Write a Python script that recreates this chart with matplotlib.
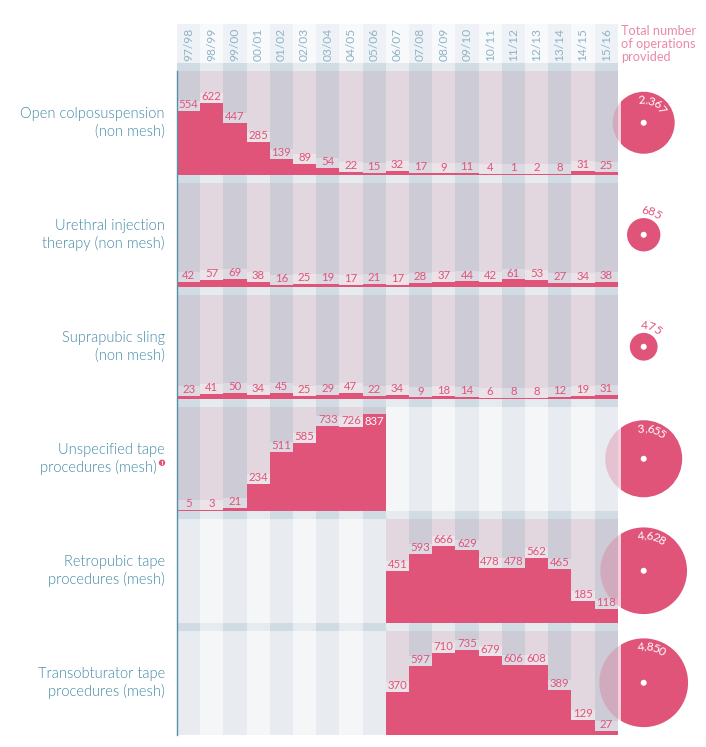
import math
import matplotlib
matplotlib.use('Agg')
import matplotlib.pyplot as plt
from matplotlib.patches import Circle, Rectangle

# data
years = ['97/98', '98/99', '99/00', '00/01', '01/02', '02/03', '03/04', '04/05', '05/06', '06/07',
         '07/08', '08/09', '09/10', '10/11', '11/12', '12/13', '13/14', '14/15', '15/16']
procedures = [('Open colposuspension', '(non mesh)'),
              ('Urethral injection', 'therapy (non mesh)'),
              ('Suprapubic sling', '(non mesh)'),
              ('Unspecified tape', 'procedures (mesh)'),
              ('Retropubic tape', 'procedures (mesh)'),
              ('Transobturator tape', 'procedures (mesh)')]
footnote = [False, False, False, True, False, False]
N = None
open_colpo = [554, 622, 447, 285, 139, 89, 54, 22, 15, 32, 17, 9, 11, 4, 1, 2, 8, 31, 25]
urethral = [42, 57, 69, 38, 16, 25, 19, 17, 21, 17, 28, 37, 44, 42, 61, 53, 27, 34, 38]
suprapubic = [23, 41, 50, 34, 45, 25, 29, 47, 22, 34, 9, 18, 14, 6, 8, 8, 12, 19, 31]
unspecified = [5, 3, 21, 234, 511, 585, 733, 726, 837, N, N, N, N, N, N, N, N, N, N]
retropubic = [N, N, N, N, N, N, N, N, N, 451, 593, 666, 629, 478, 478, 562, 465, 185, 118]
transobturator = [N, N, N, N, N, N, N, N, N, 370, 597, 710, 735, 679, 606, 608, 389, 129, 27]
series = [open_colpo, urethral, suprapubic, unspecified, retropubic, transobturator]
totals = [2367, 685, 475, 3655, 4628, 4850]

# colours
PINK = '#e0547a'
LABEL_BLUE = '#4089a5'
YEAR_BLUE = '#8db3c7'
ACTIVE = ['#cccbd6', '#e3d7df']
IDLE = ['#e8ecf1', '#f4f6f8']
SEP = ['#d1dbe3', '#e6ebf0']
HEAD = ['#eef2f6', '#f7f9fb']

# layout in pixels
W, H = 706, 747
LEFT, RIGHT = 177, 617.7
HEAD_TOP, HEAD_BOT = 24, 63
TOP0, STEP, PH = 71, 112, 103.5
YMAX = 900
CX = 643.7


def frac(x0, y0, w, h):
    return [x0 / W, 1 - (y0 + h) / H, w / W, h / H]


fig = plt.figure(figsize=(W / 100, H / 100), dpi=100)
fam = ['Lato', 'DejaVu Sans']

# background strips (header, separators, column shading)
bg = fig.add_axes(frac(LEFT, HEAD_TOP, RIGHT - LEFT, TOP0 + 5 * STEP + PH - HEAD_TOP))
bg.set_xlim(-0.5, 18.5)
bg.set_ylim(TOP0 + 5 * STEP + PH, HEAD_TOP)
bg.axis('off')
cols = range(len(years))
for j in cols:
    k = j % 2
    bg.bar(j, HEAD_BOT - HEAD_TOP, bottom=HEAD_TOP, width=1, color=HEAD[k], lw=0)
    bg.bar(j, TOP0 - HEAD_BOT, bottom=HEAD_BOT, width=1, color=SEP[k], lw=0)
    for i, vals in enumerate(series):
        top = TOP0 + i * STEP
        c = ACTIVE[k] if vals[j] is not None else IDLE[k]
        bg.bar(j, PH, bottom=top, width=1, color=c, lw=0)
        if i < 5:
            bg.bar(j, STEP - PH, bottom=top + PH, width=1, color=SEP[k], lw=0)
    bg.text(j, HEAD_BOT - 2, years[j], rotation=90, ha='center', va='bottom',
            color=YEAR_BLUE, fontsize=8.6, family=fam)

# one axes per procedure
LAB_H = 10 / PH * YMAX
for i, vals in enumerate(series):
    ax = fig.add_axes(frac(LEFT, TOP0 + i * STEP, RIGHT - LEFT, PH))
    ax.set_xlim(-0.5, 18.5)
    ax.set_ylim(0, YMAX)
    ax.axis('off')
    idx = [j for j in cols if vals[j] is not None]
    v = [vals[j] for j in idx]
    ax.bar(idx, v, width=1, color=PINK, lw=0)
    for j, val in zip(idx, v):
        if val + LAB_H < YMAX:
            ax.bar(j, LAB_H, bottom=val, width=1, color='white', alpha=0.3, lw=0)
            ax.text(j, val + 8, str(val), ha='center', va='bottom', color=PINK,
                    fontsize=8.2, family=fam)
        else:
            ax.text(j, val - 12, str(val), ha='center', va='top', color='white',
                    fontsize=8.2, family=fam)

# overlay in pixel units for labels and circles
ov = fig.add_axes([0, 0, 1, 1])
ov.set_xlim(0, W)
ov.set_ylim(H, 0)
ov.axis('off')
ov.plot([LEFT, LEFT], [TOP0, TOP0 + 5 * STEP + PH], color='#5a8fa8', lw=1)

for i, (l1, l2) in enumerate(procedures):
    cy = TOP0 + i * STEP + PH / 2
    ov.text(165, cy - 9, l1, ha='right', va='center', color=LABEL_BLUE,
            fontsize=10.5, family=fam, weight=300)
    x2 = 157 if footnote[i] else 165
    ov.text(x2, cy + 9, l2, ha='right', va='center', color=LABEL_BLUE,
            fontsize=10.5, family=fam, weight=300)
    if footnote[i]:
        ov.add_patch(Circle((162, cy + 4), 3.2, color=PINK, lw=0))
        ov.text(162, cy + 4.3, '!', ha='center', va='center', color='white',
                fontsize=4.5, weight='bold')

ov.text(621, 25, 'Total number\nof operations\nprovided', ha='left', va='top',
        color='#ea8aa6', fontsize=9.2, family=fam, linespacing=1.12)


def arc_text(cx, cy, R, s, first_deg, color):
    widths = {',': 2.4}
    th = math.radians(first_deg) + widths.get(s[0], 5.6) / 2 / R
    for ch in s:
        half = widths.get(ch, 5.6) / 2 / R
        th -= half
        x = cx + R * math.cos(th)
        y = cy - R * math.sin(th)
        ov.text(x, y, ch, rotation=math.degrees(th) - 90, rotation_mode='anchor',
                ha='center', va='baseline', color=color, fontsize=8.6, family=fam)
        th -= half


light_clip = Rectangle((0, 0), 621, H, transform=ov.transData)
dark_clip = Rectangle((621, 0), W - 621, H, transform=ov.transData)
for i, tot in enumerate(totals):
    cy = TOP0 + i * STEP + PH / 2
    r = 0.637 * math.sqrt(tot)
    c1 = Circle((CX, cy), r, color=PINK, alpha=0.27, lw=0)
    ov.add_patch(c1)
    c1.set_clip_path(light_clip)
    c2 = Circle((CX, cy), r, color=PINK, lw=0)
    ov.add_patch(c2)
    c2.set_clip_path(dark_clip)
    ov.add_patch(Circle((CX, cy), 3, color='white', lw=0))
    lab = f'{tot:,}'
    if r > 25:
        arc_text(CX, cy, r - 12, lab, 95, 'white')
    else:
        arc_text(CX, cy, r + 4, lab, 88, PINK)

fig.savefig('out.png', dpi=100)
